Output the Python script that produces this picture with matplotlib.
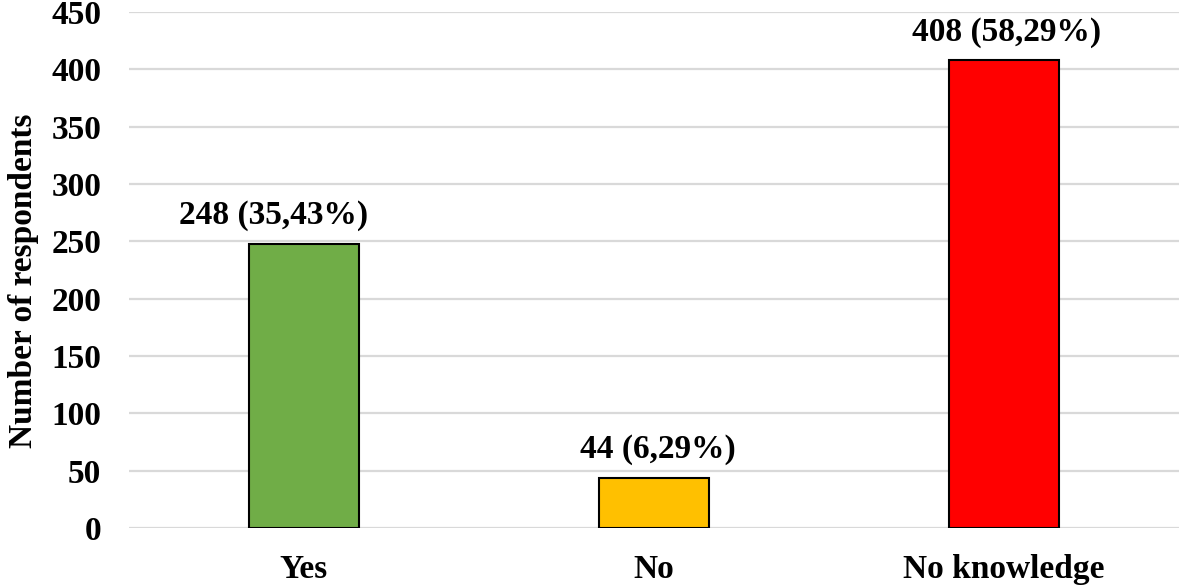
import matplotlib.pyplot as plt
import numpy as np

plt.rcParams["font.family"] = ["Liberation Serif", "DejaVu Serif"]
plt.rcParams["font.weight"] = "bold"

categories = ["Yes", "No", "No knowledge"]
counts = [248, 44, 408]
labels = ["248 (35,43%)", "44 (6,29%)", "408 (58,29%)"]
colors = ["#70AD47", "#FFC000", "#FF0000"]

# horizontal nudges of the value labels, in points (as placed in the original)
label_dx = [-22, 3, 2]

fig = plt.figure(figsize=(11.79, 5.85), dpi=100)
ax = fig.add_axes([129 / 1179, 57 / 585, 1050 / 1179, 516 / 585])

x = np.arange(len(categories))
bars = ax.bar(x, counts, width=0.317, color=colors, edgecolor="black",
              linewidth=1.5, zorder=3)

for b, lab, dx in zip(bars, labels, label_dx):
    ax.annotate(lab, (b.get_x() + b.get_width() / 2, b.get_height()),
                xytext=(dx, 9), textcoords="offset points",
                ha="center", va="bottom", fontsize=24, fontweight="bold")

ax.set_xlim(-0.5, 2.5)
ax.set_ylim(0, 450)
ax.set_yticks(np.arange(0, 451, 50))
ax.set_xticks(x)
ax.set_xticklabels(categories)

ax.yaxis.grid(True, color="#D9D9D9", linewidth=1.6, zorder=0)
ax.set_axisbelow(True)
for s in ax.spines.values():
    s.set_visible(False)

ax.tick_params(axis="both", length=0, labelsize=24)
ax.tick_params(axis="y", pad=20)
ax.tick_params(axis="x", pad=19)
for t in ax.get_xticklabels() + ax.get_yticklabels():
    t.set_fontweight("bold")

ax.set_ylabel("Number of respondents", fontsize=24, fontweight="bold")
ax.yaxis.set_label_coords(-0.086, 0.48)

fig.savefig("out.png", dpi=100)
